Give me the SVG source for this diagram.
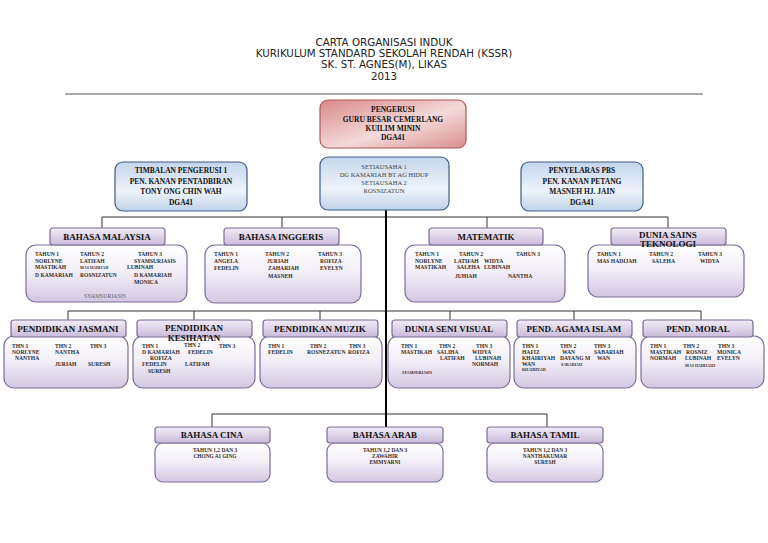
<svg xmlns="http://www.w3.org/2000/svg" width="768" height="543" viewBox="0 0 768 543">
<defs>
<linearGradient id="gRed" x1="0" y1="0" x2="1" y2="1">
<stop offset="0" stop-color="#d98888"/><stop offset="0.55" stop-color="#f4dada"/><stop offset="1" stop-color="#d98e8e"/>
</linearGradient>
<linearGradient id="gBlue" x1="0" y1="0" x2="0" y2="1">
<stop offset="0" stop-color="#c4d6ec"/><stop offset="0.6" stop-color="#eef3fa"/><stop offset="1" stop-color="#bfd2e8"/>
</linearGradient>
<linearGradient id="gHead" x1="0" y1="0" x2="0" y2="1">
<stop offset="0" stop-color="#f1ecf6"/><stop offset="1" stop-color="#c9bbdb"/>
</linearGradient>
<linearGradient id="gBody" x1="0" y1="0" x2="0" y2="1">
<stop offset="0" stop-color="#ffffff"/><stop offset="0.5" stop-color="#f1edf6"/><stop offset="1" stop-color="#d2c6e2"/>
</linearGradient>
<style>
.title{font-family:"DejaVu Sans",sans-serif;font-size:10.3px;fill:#222;text-anchor:middle}
.red{fill:url(#gRed);stroke:#b05656;stroke-width:1.2}
.blue{fill:url(#gBlue);stroke:#3f5c84;stroke-width:1.2}
.head{fill:url(#gHead);stroke:#7c6c98;stroke-width:1.2}
.body{fill:url(#gBody);stroke:#7c6c98;stroke-width:1.2}
.tb{font-family:"Liberation Serif",serif;font-weight:bold;font-size:7.5px;fill:#111;text-anchor:middle}
.ts{font-family:"Liberation Serif",serif;font-size:6.5px;fill:#444;text-anchor:middle}
.h{font-family:"Liberation Serif",serif;font-weight:bold;font-size:9px;fill:#111;text-anchor:middle}
.b{font-family:"Liberation Serif",serif;font-weight:bold;font-size:5.6px;fill:#2e2e2e}
.bs{font-family:"Liberation Serif",serif;font-weight:bold;font-size:4px;fill:#2e2e2e}
.bg{font-family:"Liberation Serif",serif;font-size:5.8px;fill:#666}
.bc{font-family:"Liberation Serif",serif;font-weight:bold;font-size:5.4px;fill:#2e2e2e;text-anchor:middle}
.ln{stroke:#333;stroke-width:1;fill:none}
.trunk{stroke:#000;stroke-width:2;fill:none}
</style>
</defs>
<rect width="768" height="543" fill="#fff"/>
<g id="title">
<text class="title" x="384" y="46">CARTA ORGANISASI INDUK</text>
<text class="title" x="384" y="57">KURIKULUM STANDARD SEKOLAH RENDAH (KSSR)</text>
<text class="title" x="384" y="68">SK. ST. AGNES(M), LIKAS</text>
<text class="title" x="384" y="80">2013</text>
<line x1="65" y1="94" x2="703" y2="94" stroke="#555" stroke-width="1"/>
</g>
<g id="connectors">
<polyline class="ln" points="102,228 102,217 668,217 668,228"/>
<line class="ln" x1="282" y1="217" x2="282" y2="228"/>
<line class="ln" x1="487" y1="217" x2="487" y2="228"/>
<polyline class="ln" points="68,320 68,311 701,311 701,320"/>
<line class="ln" x1="194" y1="311" x2="194" y2="320"/>
<line class="ln" x1="320" y1="311" x2="320" y2="320"/>
<line class="ln" x1="450" y1="311" x2="450" y2="320"/>
<line class="ln" x1="574" y1="311" x2="574" y2="320"/>
<polyline class="ln" points="212,427 212,414 547,414 547,427"/>
<line class="trunk" x1="386" y1="210" x2="386" y2="427"/>
</g>
<g id="pengerusi">
<rect class="red" x="320" y="100" width="146" height="48" rx="8"/>
<text class="tb" x="393" y="112">PENGERUSI</text>
<text class="tb" x="393" y="122">GURU BESAR CEMERLANG</text>
<text class="tb" x="393" y="131">KUILIM MININ</text>
<text class="tb" x="393" y="140">DGA41</text>
</g>
<g id="timbalan">
<rect class="blue" x="115" y="162" width="132" height="49" rx="8"/>
<text class="tb" x="181" y="173">TIMBALAN PENGERUSI 1</text>
<text class="tb" x="181" y="184">PEN. KANAN PENTADBIRAN</text>
<text class="tb" x="181" y="194">TONY ONG CHIN WAH</text>
<text class="tb" x="181" y="205">DGA41</text>
</g>
<g id="setiausaha">
<rect class="blue" x="320" y="157" width="129" height="53" rx="8"/>
<text class="ts" x="384" y="169">SETIAUSAHA 1</text>
<text class="ts" x="384" y="177">DG KAMARIAH BT AG HIDUP</text>
<text class="ts" x="384" y="185">SETIAUSAHA 2</text>
<text class="ts" x="384" y="193">ROSNIZATUN</text>
</g>
<g id="penyelaras">
<rect class="blue" x="521" y="162" width="122" height="49" rx="8"/>
<text class="tb" x="582" y="173">PENYELARAS PBS</text>
<text class="tb" x="582" y="184">PEN. KANAN PETANG</text>
<text class="tb" x="582" y="194">MASNEH HJ. JAIN</text>
<text class="tb" x="582" y="205">DGA41</text>
</g>
<g id="bahasa-malaysia">
<rect class="body" x="26" y="245" width="161" height="57" rx="10"/>
<rect class="head" x="50" y="228" width="115" height="17" rx="3"/>
<text class="h" x="107" y="240">BAHASA MALAYSIA</text>
<text class="b" x="35" y="256">TAHUN 1</text>
<text class="b" x="35" y="263">NORLYNE</text>
<text class="b" x="35" y="269">MASTIKAH</text>
<text class="b" x="35" y="277">D KAMARIAH</text>
<text class="b" x="80" y="256">TAHUN 2</text>
<text class="b" x="80" y="263">LATIFAH</text>
<text class="bs" x="80" y="269">MAS HADIJAH</text>
<text class="b" x="80" y="277">ROSNIZATUN</text>
<text class="b" x="138" y="256">TAHUN 3</text>
<text class="b" x="134" y="263">SYAMSURIASIS</text>
<text class="b" x="127" y="269">LUBINAH</text>
<text class="b" x="134" y="277">D KAMARIAH</text>
<text class="b" x="134" y="284">MONICA</text>
<text class="bg" x="84" y="298">SYAMSURIASIS</text>
</g>
<g id="bahasa-inggeris">
<rect class="body" x="205" y="245" width="156" height="58" rx="10"/>
<rect class="head" x="224" y="228" width="115" height="17" rx="3"/>
<text class="h" x="281" y="240">BAHASA INGGERIS</text>
<text class="b" x="214" y="256">TAHUN 1</text>
<text class="b" x="214" y="263">ANGELA</text>
<text class="b" x="214" y="270">FEDELIN</text>
<text class="b" x="265" y="256">TAHUN 2</text>
<text class="b" x="267" y="263">JURIAH</text>
<text class="b" x="268" y="270">ZAHARIAH</text>
<text class="b" x="268" y="278">MASNEH</text>
<text class="b" x="318" y="256">TAHUN 3</text>
<text class="b" x="320" y="263">ROFIZA</text>
<text class="b" x="320" y="270">EVELYN</text>
</g>
<g id="matematik">
<rect class="body" x="405" y="245" width="160" height="57" rx="10"/>
<rect class="head" x="429" y="228" width="114" height="17" rx="3"/>
<text class="h" x="486" y="240">MATEMATIK</text>
<text class="b" x="415" y="256">TAHUN 1</text>
<text class="b" x="415" y="263">NORLYNE</text>
<text class="b" x="415" y="269">MASTIKAH</text>
<text class="b" x="459" y="256">TAHUN 2</text>
<text class="b" x="454" y="263">LATIFAH</text>
<text class="b" x="484" y="263">WIDYA</text>
<text class="b" x="457" y="269">SALEHA</text>
<text class="b" x="484" y="269">LUBINAH</text>
<text class="b" x="455" y="278">JUHIAH</text>
<text class="b" x="516" y="256">TAHUN 3</text>
<text class="b" x="508" y="278">NANTHA</text>
</g>
<g id="dunia-sains">
<rect class="body" x="588" y="245" width="156" height="52" rx="10"/>
<rect class="head" x="611" y="228" width="115" height="17" rx="3"/>
<text class="h" x="668" y="238">DUNIA SAINS</text>
<text class="h" x="668" y="247">TEKNOLOGI</text>
<text class="b" x="597" y="256">TAHUN 1</text>
<text class="b" x="597" y="263">MAS HADIJAH</text>
<text class="b" x="649" y="256">TAHUN 2</text>
<text class="b" x="652" y="263">SALEHA</text>
<text class="b" x="698" y="256">TAHUN 3</text>
<text class="b" x="700" y="263">WIDYA</text>
</g>
<g id="pendidikan-jasmani">
<rect class="body" x="4" y="336" width="124" height="52" rx="10"/>
<rect class="head" x="11" y="320" width="115" height="17" rx="3"/>
<text class="h" x="68" y="332">PENDIDIKAN JASMANI</text>
<text class="b" x="12" y="348">THN 1</text>
<text class="b" x="12" y="354">NORLYNE</text>
<text class="b" x="15" y="360">NANTHA</text>
<text class="b" x="55" y="348">THN 2</text>
<text class="b" x="55" y="354">NANTHA</text>
<text class="b" x="55" y="366">JURIAH</text>
<text class="b" x="90" y="348">THN 3</text>
<text class="b" x="88" y="366">SURESH</text>
</g>
<g id="pendidikan-kesihatan">
<rect class="body" x="133" y="336" width="122" height="52" rx="10"/>
<rect class="head" x="137" y="320" width="115" height="17" rx="3"/>
<text class="h" x="194" y="331">PENDIDIKAN</text>
<text class="h" x="194" y="341">KESIHATAN</text>
<text class="b" x="142" y="348">THN 1</text>
<text class="b" x="142" y="354">D KAMARIAH</text>
<text class="b" x="150" y="360">ROFIZA</text>
<text class="b" x="142" y="366">FEDELIN</text>
<text class="b" x="148" y="373">SURESH</text>
<text class="b" x="184" y="347">THN 2</text>
<text class="b" x="188" y="354">FEDELIN</text>
<text class="b" x="185" y="366">LATIFAH</text>
<text class="b" x="219" y="348">THN 3</text>
</g>
<g id="pendidikan-muzik">
<rect class="body" x="260" y="336" width="122" height="52" rx="10"/>
<rect class="head" x="263" y="320" width="115" height="17" rx="3"/>
<text class="h" x="320" y="332">PENDIDIKAN MUZIK</text>
<text class="b" x="268" y="348">THN 1</text>
<text class="b" x="268" y="354">FEDELIN</text>
<text class="b" x="310" y="348">THN 2</text>
<text class="b" x="307" y="354">ROSNEZATUN</text>
<text class="b" x="349" y="348">THN 3</text>
<text class="b" x="348" y="354">ROFIZA</text>
</g>
<g id="dunia-seni-visual">
<rect class="body" x="388" y="336" width="122" height="52" rx="10"/>
<rect class="head" x="392" y="320" width="115" height="17" rx="3"/>
<text class="h" x="449" y="332">DUNIA SENI VISUAL</text>
<text class="b" x="401" y="348">THN 1</text>
<text class="b" x="401" y="354">MASTIKAH</text>
<text class="b" x="439" y="348">THN 2</text>
<text class="b" x="437" y="354">SALIHA</text>
<text class="b" x="440" y="360">LATIFAH</text>
<text class="b" x="476" y="348">THN 3</text>
<text class="b" x="472" y="354">WIDYA</text>
<text class="b" x="475" y="360">LUBINAH</text>
<text class="b" x="472" y="366">NORMAH</text>
<text class="bs" x="402" y="374">SYAMSURIASIS</text>
</g>
<g id="pend-agama-islam">
<rect class="body" x="514" y="336" width="122" height="52" rx="10"/>
<rect class="head" x="517" y="320" width="115" height="17" rx="3"/>
<text class="h" x="574" y="332">PEND. AGAMA ISLAM</text>
<text class="b" x="522" y="348">THN 1</text>
<text class="b" x="522" y="354">HAFIZ</text>
<text class="b" x="522" y="360">KHAIRIYAH</text>
<text class="b" x="522" y="366">WAN</text>
<text class="bs" x="522" y="371">KHAIRIYAH</text>
<text class="b" x="560" y="348">THN 2</text>
<text class="b" x="562" y="354">WAN</text>
<text class="b" x="560" y="360">DAYANG M</text>
<text class="bs" x="561" y="366">SABARIAH</text>
<text class="b" x="594" y="348">THN 3</text>
<text class="b" x="594" y="354">SABARIAH</text>
<text class="b" x="597" y="360">WAN</text>
</g>
<g id="pend-moral">
<rect class="body" x="641" y="336" width="123" height="52" rx="10"/>
<rect class="head" x="643" y="320" width="110" height="17" rx="3"/>
<text class="h" x="698" y="332">PEND. MORAL</text>
<text class="b" x="650" y="348">THN 1</text>
<text class="b" x="650" y="354">MASTIKAH</text>
<text class="b" x="650" y="360">NORMAH</text>
<text class="b" x="683" y="348">THN 2</text>
<text class="b" x="686" y="354">ROSNIZ</text>
<text class="b" x="685" y="360">LUBINAH</text>
<text class="bs" x="685" y="367">MAS HADIJAHJ</text>
<text class="b" x="718" y="348">THN 3</text>
<text class="b" x="717" y="354">MONICA</text>
<text class="b" x="717" y="360">EVELYN</text>
</g>
<g id="bahasa-cina">
<rect class="body" x="155" y="443" width="115" height="39" rx="8"/>
<rect class="head" x="155" y="427" width="115" height="16" rx="3"/>
<text class="h" x="212" y="438">BAHASA CINA</text>
<text class="bc" x="215" y="452">TAHUN 1,2 DAN 3</text>
<text class="bc" x="215" y="458">CHONG AI GING</text>
</g>
<g id="bahasa-arab">
<rect class="body" x="327" y="443" width="116" height="39" rx="8"/>
<rect class="head" x="327" y="427" width="116" height="16" rx="3"/>
<text class="h" x="385" y="438">BAHASA ARAB</text>
<text class="bc" x="385" y="452">TAHUN 1,2 DAN 3</text>
<text class="bc" x="385" y="458">ZAWAHIR</text>
<text class="bc" x="385" y="464">EMMYARNI</text>
</g>
<g id="bahasa-tamil">
<rect class="body" x="487" y="443" width="116" height="39" rx="8"/>
<rect class="head" x="487" y="427" width="116" height="16" rx="3"/>
<text class="h" x="545" y="438">BAHASA TAMIL</text>
<text class="bc" x="545" y="452">TAHUN 1,2 DAN 3</text>
<text class="bc" x="545" y="458">NANTHAKUMAR</text>
<text class="bc" x="545" y="464">SURESH</text>
</g>
</svg>
